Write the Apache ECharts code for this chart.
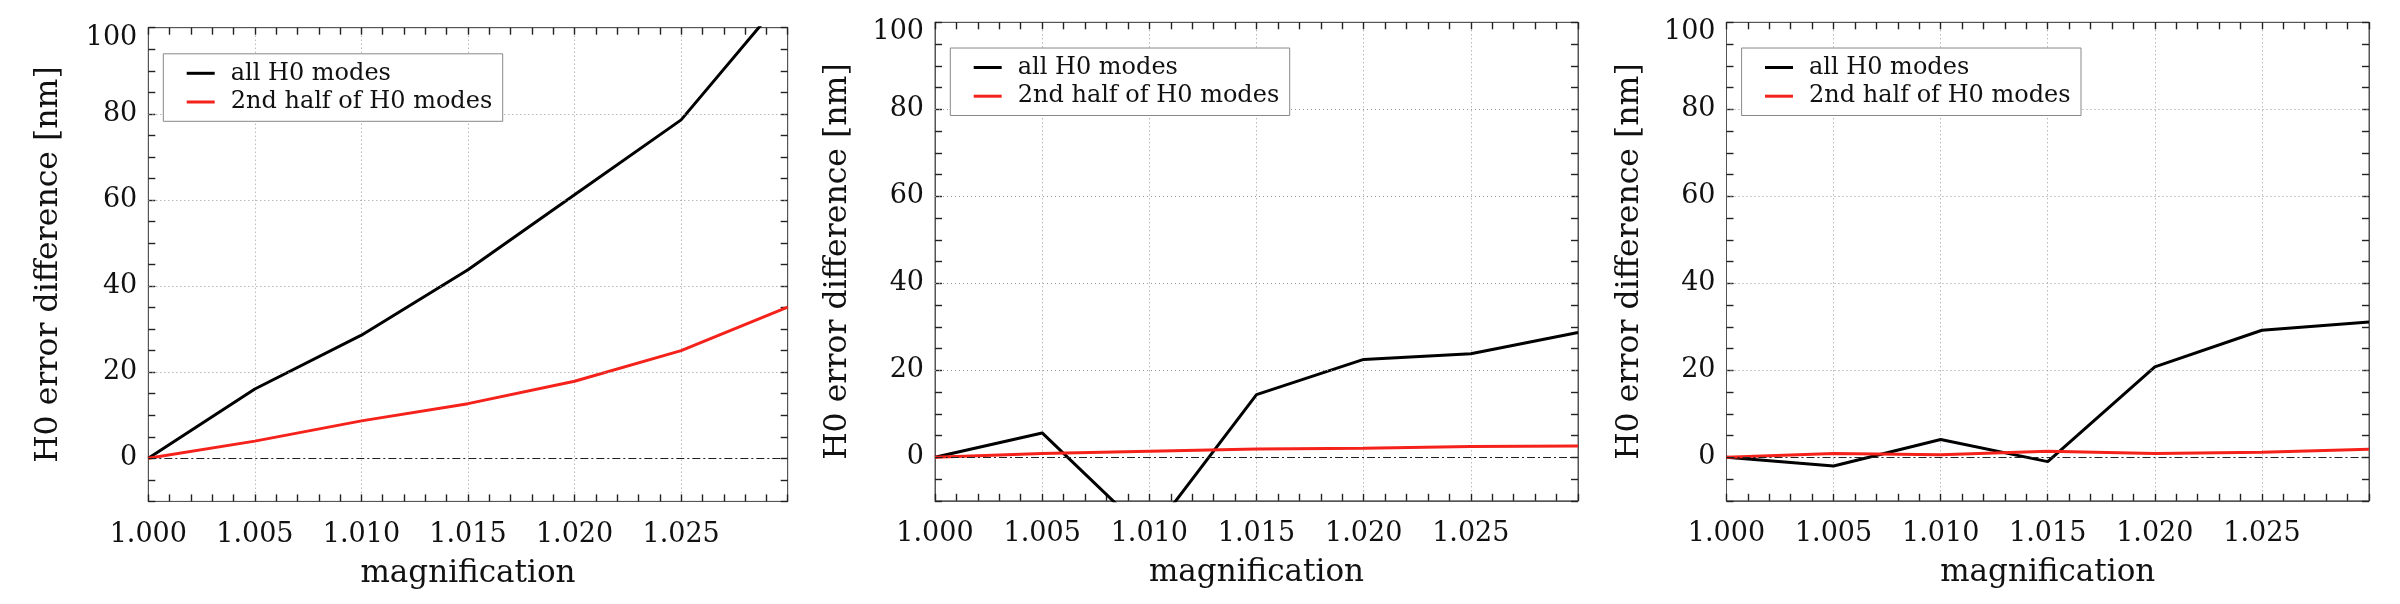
<!DOCTYPE html>
<html><head><meta charset="utf-8">
<script src="https://cdn.jsdelivr.net/npm/echarts@6/dist/echarts.min.js"></script>
<style>html,body{margin:0;padding:0;background:#fff}#c{width:2400px;height:604px}</style>
</head><body><div id="c"></div>
<script>
// ---- data ----
const magnification = [1.000, 1.005, 1.010, 1.015, 1.020, 1.025, 1.030];
const panel1All  = [0, 16.1, 28.6, 43.8, 61.2, 78.6, 108.0];
const panel1Half = [0, 4.0, 8.7, 12.7, 17.9, 25.0, 35.1];
const panel2All  = [0, 5.6, -18.0, 14.4, 22.5, 23.8, 28.7];
const panel2Half = [0, 0.9, 1.4, 1.9, 2.1, 2.5, 2.6];
const panel3All  = [0, -2.0, 4.1, -1.0, 20.8, 29.2, 31.1];
const panel3Half = [0, 0.85, 0.6, 1.4, 0.85, 1.15, 1.85];
const xTickLabels = ['1.000', '1.005', '1.010', '1.015', '1.020', '1.025'];
const yTickLabels = ['0', '20', '40', '60', '80', '100'];
const gridLevels = [20, 40, 60, 80];
const zeroLevel = 0;
const seriesNames = ['all H0 modes', '2nd half of H0 modes'];
const xAxisTitle = 'magnification';
const yAxisTitle = 'H0 error difference [nm]';

// ---- layout / style ----
const FONT = 'DejaVu Serif';
const FRAME = '#555';
const TICK = '#222';
const TXT = '#111';
const RED = '#f5221b';
const GRIDC = '#999';
const layout = [
  {left: 148.3, top: 27.7, width: 639.4, height: 473.7, lgLeft: 163.3, lgTop: 53.8, yGap: 83},
  {left: 935.0, top: 22.3, width: 643.0, height: 478.5, lgLeft: 950.3, lgTop: 48.0, yGap: 81},
  {left: 1726.5, top: 22.3, width: 642.5, height: 478.5, lgLeft: 1741.6, lgTop: 48.0, yGap: 81}
];
const panels = [[panel1All, panel1Half], [panel2All, panel2Half], [panel3All, panel3Half]];

const grid = [], xAxis = [], yAxis = [], series = [], legend = [];
const lineSt = {color: FRAME, width: 1};
const tickSt = {color: TICK, width: 1.4};

layout.forEach((L, i) => {
  grid.push({left: L.left, top: L.top, width: L.width, height: L.height,
    show: true, borderColor: FRAME, borderWidth: 1, backgroundColor: 'transparent'});

  const xBase = {type: 'value', gridIndex: i, min: 1.0, max: 1.03, interval: 0.005,
    axisLine: {show: true, onZero: false, lineStyle: lineSt},
    axisTick: {show: true, inside: true, length: 7, lineStyle: tickSt},
    minorTick: {show: true, splitNumber: 5, length: 7, lineStyle: tickSt}};
  xAxis.push(Object.assign({}, xBase, {position: 'bottom',
    axisLabel: {show: true, margin: 20, fontFamily: FONT, fontSize: 27, color: TXT,
      showMaxLabel: false,
      formatter: v => { const s = v.toFixed(3); return xTickLabels.includes(s) ? s : ''; }},
    splitLine: {show: true, lineStyle: {color: GRIDC, width: 1, type: [1, 3]}},
    name: xAxisTitle, nameLocation: 'middle', nameGap: 57,
    nameTextStyle: {fontFamily: FONT, fontSize: 31, color: TXT}}));
  xAxis.push(Object.assign({}, xBase, {position: 'top',
    axisLabel: {show: false}, splitLine: {show: false}}));

  const yBase = {type: 'value', gridIndex: i, min: -10, max: 100, interval: 5,
    axisLine: {show: true, onZero: false, lineStyle: lineSt},
    axisTick: {show: true, inside: true, length: 7, lineStyle: tickSt},
    splitLine: {show: false}};
  yAxis.push(Object.assign({}, yBase, {position: 'left',
    axisLabel: {show: true, margin: 11, fontFamily: FONT, fontSize: 27, color: TXT,
      formatter: v => {
        const s = String(Math.round(v));
        if (!yTickLabels.includes(s)) return '';
        return s === yTickLabels[yTickLabels.length - 1] ? '{top|' + s + '}' : s;
      },
      rich: {top: {fontFamily: FONT, fontSize: 27, color: TXT, padding: [20, 0, 0, 0]}}},
    name: yAxisTitle, nameLocation: 'middle', nameGap: L.yGap, nameRotate: 90,
    nameTextStyle: {fontFamily: FONT, fontSize: 31.5, color: TXT}}));
  yAxis.push(Object.assign({}, yBase, {position: 'right', axisLabel: {show: false}}));

  // reference lines (grid levels dotted, zero level dash-dot)
  series.push({type: 'line', name: 'ref' + i, xAxisIndex: 2 * i, yAxisIndex: 2 * i,
    data: [], silent: true, z: 1,
    markLine: {silent: true, symbol: ['none', 'none'], label: {show: false}, animation: false,
      data: gridLevels.map(v => ({yAxis: v, lineStyle: {color: GRIDC, width: 1, type: [1, 3]}}))
        .concat([{yAxis: zeroLevel, lineStyle: {color: '#222', width: 1, type: [8, 3, 2, 3]}}])}});

  const [allV, halfV] = panels[i];
  series.push({type: 'line', name: seriesNames[0], xAxisIndex: 2 * i, yAxisIndex: 2 * i,
    data: magnification.map((x, k) => [x, allV[k]]), symbol: 'none', clip: true, z: 3,
    lineStyle: {color: '#000', width: 3}, itemStyle: {color: '#000'}, silent: true});
  series.push({type: 'line', name: seriesNames[1], xAxisIndex: 2 * i, yAxisIndex: 2 * i,
    data: magnification.map((x, k) => [x, halfV[k]]), symbol: 'none', clip: true, z: 4,
    lineStyle: {color: RED, width: 3}, itemStyle: {color: RED}, silent: true});

  legend.push({left: L.lgLeft, top: L.lgTop, orient: 'vertical', data: seriesNames,
    icon: 'rect', itemWidth: 28, itemHeight: 3, itemGap: 4.7,
    padding: [7.5, 10, 7.3, 23.4], borderColor: '#888', borderWidth: 1, backgroundColor: '#fff',
    selectedMode: false, z: 10,
    textStyle: {fontFamily: FONT, fontSize: 24, color: TXT, lineHeight: 22,
      padding: [0, 0, 0, 11], width: 262}});
});

const chart = echarts.init(document.getElementById('c'), null, {renderer: 'canvas'});
chart.setOption({backgroundColor: '#fff', animation: false,
  grid, xAxis, yAxis, series, legend});
</script></body></html>
